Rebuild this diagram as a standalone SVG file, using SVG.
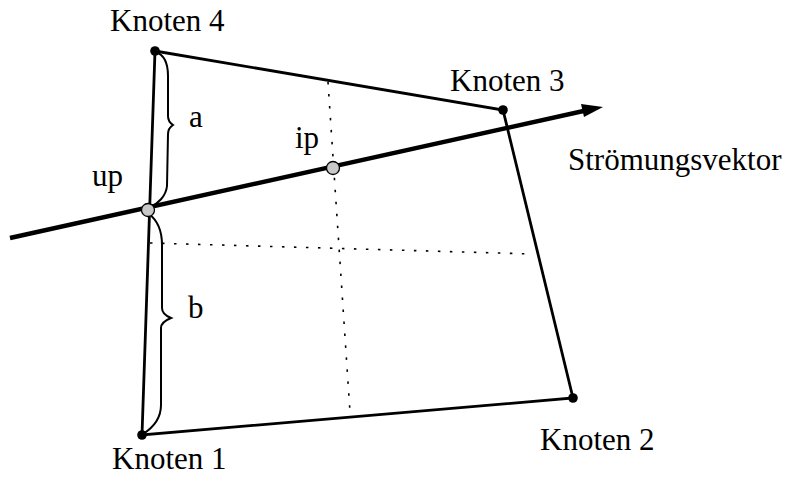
<svg xmlns="http://www.w3.org/2000/svg" width="788" height="477" viewBox="0 0 788 477">
<style>
.lbl{font-family:"Liberation Serif","Times New Roman",serif;font-size:31px;fill:#000}
.edge{stroke:#000;stroke-width:2.8;fill:none;stroke-linecap:round}
.brace{stroke:#000;stroke-width:2;fill:none}
.dot{stroke:#000;stroke-width:1.6;stroke-dasharray:2.5 9.5;fill:none}
.node{fill:#000}
.pt{fill:#c8c8c8;stroke:#000;stroke-width:1.3}
</style>
<rect width="788" height="477" fill="#fff"/>
<g id="connectors">
<path class="edge" d="M155,51 L503,110 L573,398 L142,435 Z"/>
<path class="dot" d="M328,82 L350,412"/>
<path class="dot" d="M150,243 L533,254"/>
<path class="brace" d="M155,52 C163,54 168,62 168,76 L168,116 C168,121 170,123 173,125 C170,127 168,129 168,134 L167,186 C166,196 158,204 149,208"/>
<path class="brace" d="M149,214 C157,220 162,230 162,245 L162,308 C162,313 166,316 171,318 C166,320 161,323 161,328 L161,405 C161,418 154,427 143,434"/>
<line x1="10" y1="238" x2="588" y2="110" stroke="#000" stroke-width="4.5"/>
<polygon points="603,107 584,117 581,104" fill="#000"/>
</g>
<g id="node1"><circle class="node" cx="142" cy="435" r="4.8"/><text class="lbl" x="112" y="469">Knoten 1</text></g>
<g id="node2"><circle class="node" cx="573" cy="398" r="4.8"/><text class="lbl" x="540" y="450">Knoten 2</text></g>
<g id="node3"><circle class="node" cx="503" cy="110" r="4.8"/><text class="lbl" x="450" y="91">Knoten 3</text></g>
<g id="node4"><circle class="node" cx="155" cy="51" r="4.8"/><text class="lbl" x="110" y="31">Knoten 4</text></g>
<g id="up"><circle class="pt" cx="148" cy="210" r="6.5"/><text class="lbl" x="92" y="186">up</text></g>
<g id="ip"><circle class="pt" cx="333" cy="168" r="6.5"/><text class="lbl" x="295" y="148">ip</text></g>
<g id="labels">
<text class="lbl" x="189" y="127">a</text>
<text class="lbl" x="188" y="318">b</text>
<text class="lbl" x="568" y="170">Strömungsvektor</text>
</g>
</svg>
